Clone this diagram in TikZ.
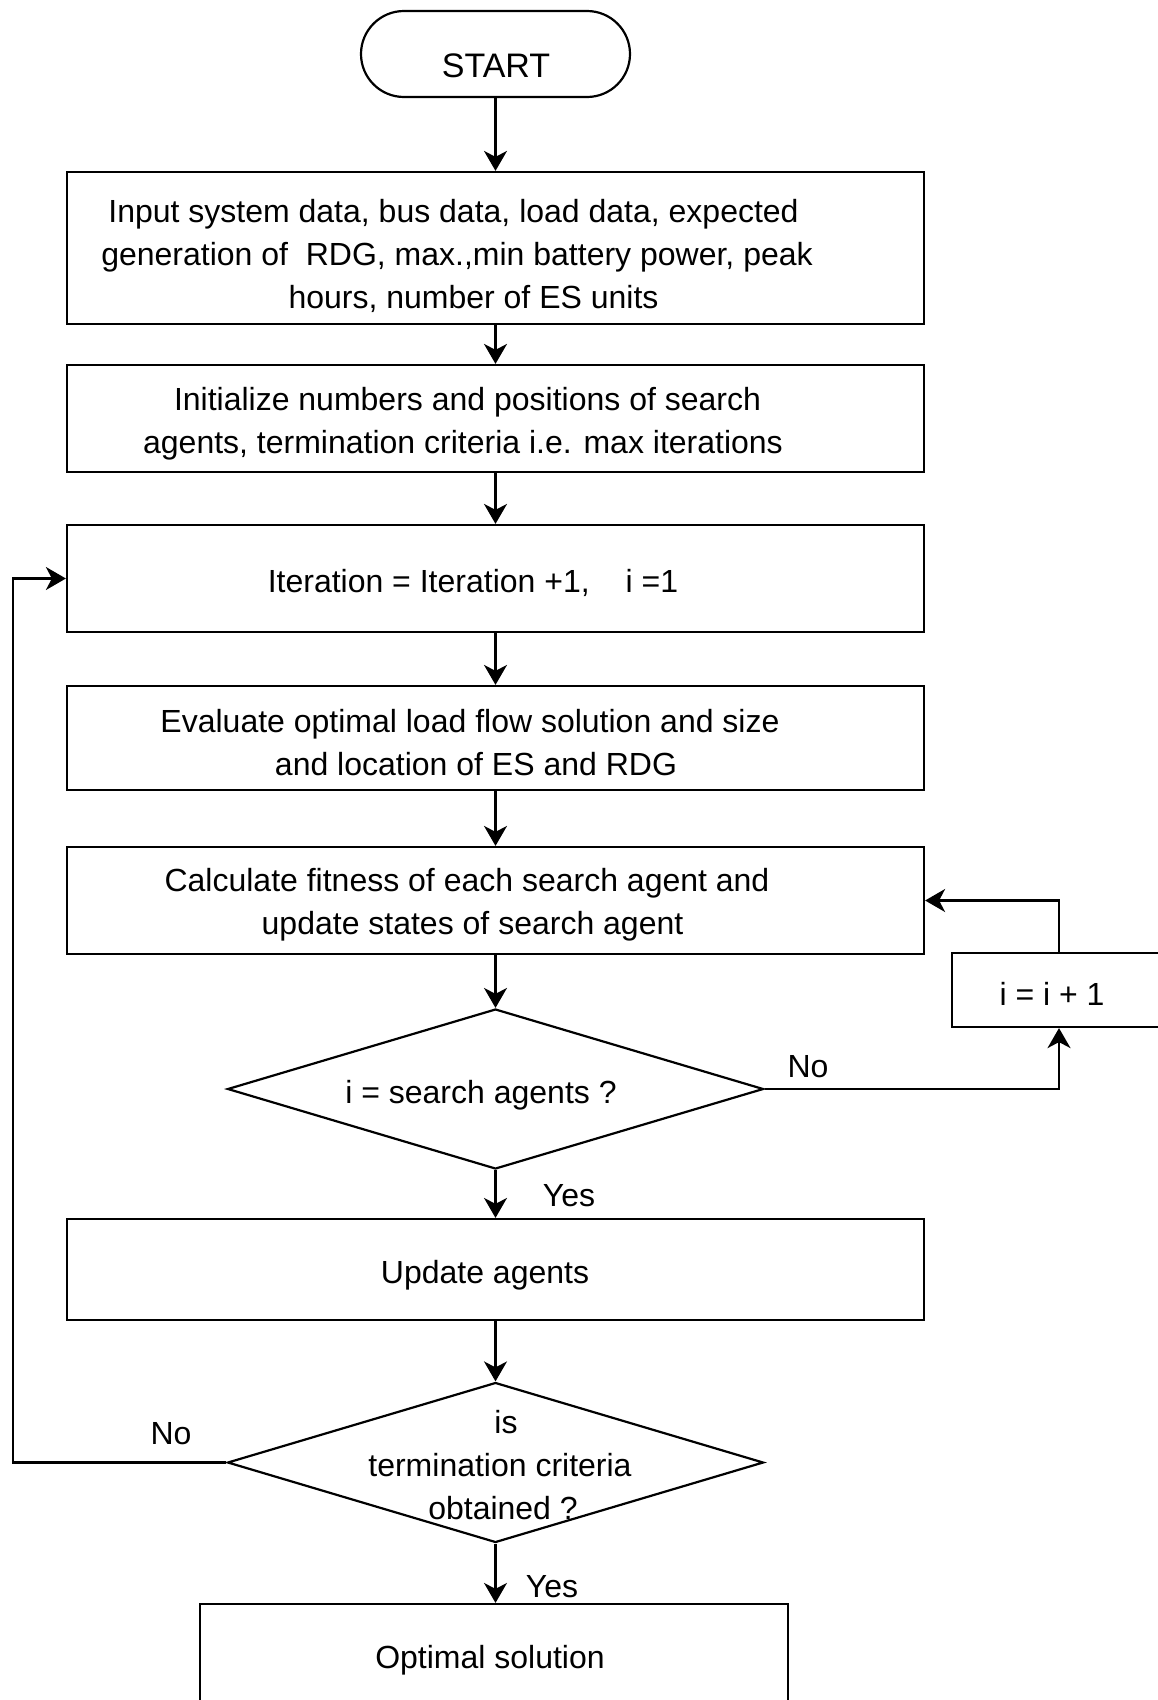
\documentclass[tikz,border=0pt]{standalone}
\usepackage{fontspec}
\setmainfont{Liberation Sans}
\usetikzlibrary{arrows.meta,shapes.geometric}
\begin{document}
\begin{tikzpicture}[x=1pt,y=-1pt,
  line width=2.2pt,
  box/.style={draw,rectangle,inner sep=0pt,minimum width=#1},
  box/.default=857pt,
  dia/.style={draw,diamond,inner sep=0pt,minimum width=536pt,minimum height=160pt},
  txt/.style={inner sep=0pt,align=center,font=\fontsize{32}{43}\selectfont},
  arr/.style={-{Stealth[length=20pt,width=23pt,inset=6pt]}},
  lbl/.style={inner sep=0pt,font=\fontsize{32}{38}\selectfont}]
\useasboundingbox (0,0) rectangle (1158,1700);
% nodes
\node[draw,rectangle,rounded corners=43pt,minimum width=269pt,minimum height=86pt] (start) at (495.5,54) {};
\node[txt,font=\fontsize{34}{40}\selectfont] (tstart) at (496,66) {START};
\node[box,minimum height=152pt] (b1) at (495.5,248) {};
\node[txt] (t1) at (457,256) {Input system data, bus data, load data, expected\hspace*{7pt}\\
generation of~ RDG, max.,min battery power, peak\\
\hspace*{33pt}hours, number of ES units};
\node[box,minimum height=107pt] (b2) at (495.5,418.5) {};
\node[txt] (t2) at (463,424) {\hspace*{9pt}Initialize numbers and positions of search\\agents, termination criteria i.e. max iterations};
\node[box,minimum height=107pt] (b3) at (495.5,578.5) {};
\node[txt] (t3) at (473,583) {Iteration = Iteration +1,\hspace{36pt}i =1};
\node[box,minimum height=104pt] (b4) at (495.5,738) {};
\node[txt] (t4) at (470,743) {Evaluate optimal load flow solution and size\\\hspace*{12pt}and location of ES and RDG};
\node[box,minimum height=107pt] (b5) at (495.5,900.5) {};
\node[txt] (t5) at (467,905) {Calculate fitness of each search agent and\\\hspace*{11pt}update states of search agent};
\node[box=214pt,minimum height=74pt] (bi) at (1059,990) {};
\node[txt] (ti) at (1052,994) {i = i + 1};
\node[dia] (d1) at (495.5,1089) {};
\node[txt] (td1) at (481,1095) {i = search agents ?};
\node[box,minimum height=101pt] (bu) at (495.5,1269.5) {};
\node[txt] (tu) at (485,1275) {Update agents};
\node[dia] (d2) at (495.5,1462.5) {};
\node[txt] (td2) at (500,1465) {\hspace*{12pt}is\\termination criteria\\\hspace*{6pt}obtained ?};
\node[box=588pt,minimum height=106pt] (bo) at (494,1657) {};
\node[txt] (to) at (490,1660) {Optimal solution};
% labels
\node[lbl] (no1) at (808,1067) {No};
\node[lbl] (yes1) at (569,1196) {Yes};
\node[lbl] (no2) at (171,1434) {No};
\node[lbl] (yes2) at (552,1587) {Yes};
\coordinate (lft) at (13,1462.5);
% connectors
\draw[arr] (start) -- (b1);
\draw[arr] (b1) -- (b2);
\draw[arr] (b2) -- (b3);
\draw[arr] (b3) -- (b4);
\draw[arr] (b4) -- (b5);
\draw[arr] (b5) -- (d1);
\draw[arr] (d1) -- (bu);
\draw[arr] (bu) -- (d2);
\draw[arr] (d2) -- (bo.north -| d2);
\draw[arr] (d1.east) -| (bi.south);
\draw[arr] (bi.north) |- (b5.east);
\draw[arr] (d2.west) -- (lft) |- (b3.west);
\end{tikzpicture}
\end{document}
